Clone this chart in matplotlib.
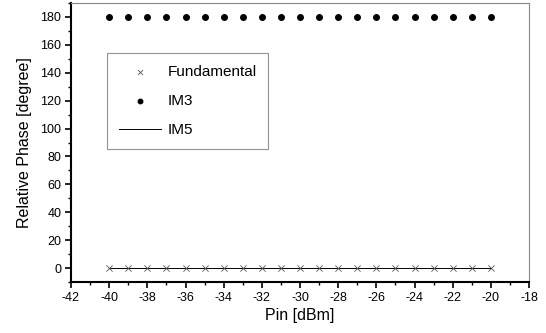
import numpy as np
import matplotlib
matplotlib.use("Agg")
import matplotlib.pyplot as plt
from matplotlib.ticker import MultipleLocator

plt.rcParams['font.family'] = ['Liberation Sans', 'DejaVu Sans']
plt.rcParams['axes.unicode_minus'] = False

pin = [-40, -39, -38, -37, -36, -35, -34, -33, -32, -31, -30,
       -29, -28, -27, -26, -25, -24, -23, -22, -21, -20]
fund = [0] * len(pin)
im3 = [180] * len(pin)
im5 = [0] * len(pin)

fig = plt.figure(figsize=(5.46, 3.33), dpi=100)
ax = fig.add_axes([71 / 546, 1 - 282 / 333, 458 / 546, 279 / 333])

ax.plot(pin, im5, c="k", lw=0.7, label="IM5", zorder=1)
ax.scatter(pin, fund, marker="x", s=20, c="#555555", lw=0.6, label="Fundamental", zorder=2)
ax.scatter(pin, im3, marker="o", s=16, c="k", label="IM3", zorder=2)

ax.set_xlim(-42, -18)
ax.set_ylim(-10, 190)
ax.xaxis.set_major_locator(MultipleLocator(2))
ax.xaxis.set_minor_locator(MultipleLocator(1))
ax.yaxis.set_major_locator(MultipleLocator(20))
ax.yaxis.set_minor_locator(MultipleLocator(10))
ax.tick_params(which="major", direction="out", length=4, width=1.2, labelsize=9, pad=3)
ax.tick_params(which="minor", direction="out", length=2.5, width=1.0)
ax.tick_params(top=False, right=False)

for s in ["left", "bottom"]:
    ax.spines[s].set_linewidth(1.5)
for s in ["top", "right"]:
    ax.spines[s].set_linewidth(0.8)
    ax.spines[s].set_color("#888888")

ax.set_xlabel("Pin [dBm]", fontsize=11.5, labelpad=3)
ax.set_ylabel("Relative Phase [degree]", fontsize=11.5, labelpad=6)

h, l = ax.get_legend_handles_labels()
order = [1, 2, 0]
leg = ax.legend([h[i] for i in order], [l[i] for i in order],
                loc="upper left", bbox_to_anchor=(0.079, 0.82), fontsize=11,
                frameon=True, fancybox=False, borderpad=0.75, labelspacing=1.0,
                handlelength=2.8, handletextpad=0.4, borderaxespad=0,
                markerscale=0.8)
leg.get_frame().set_edgecolor("#777777")
leg.get_frame().set_linewidth(0.8)

fig.savefig("out.png", dpi=100)
